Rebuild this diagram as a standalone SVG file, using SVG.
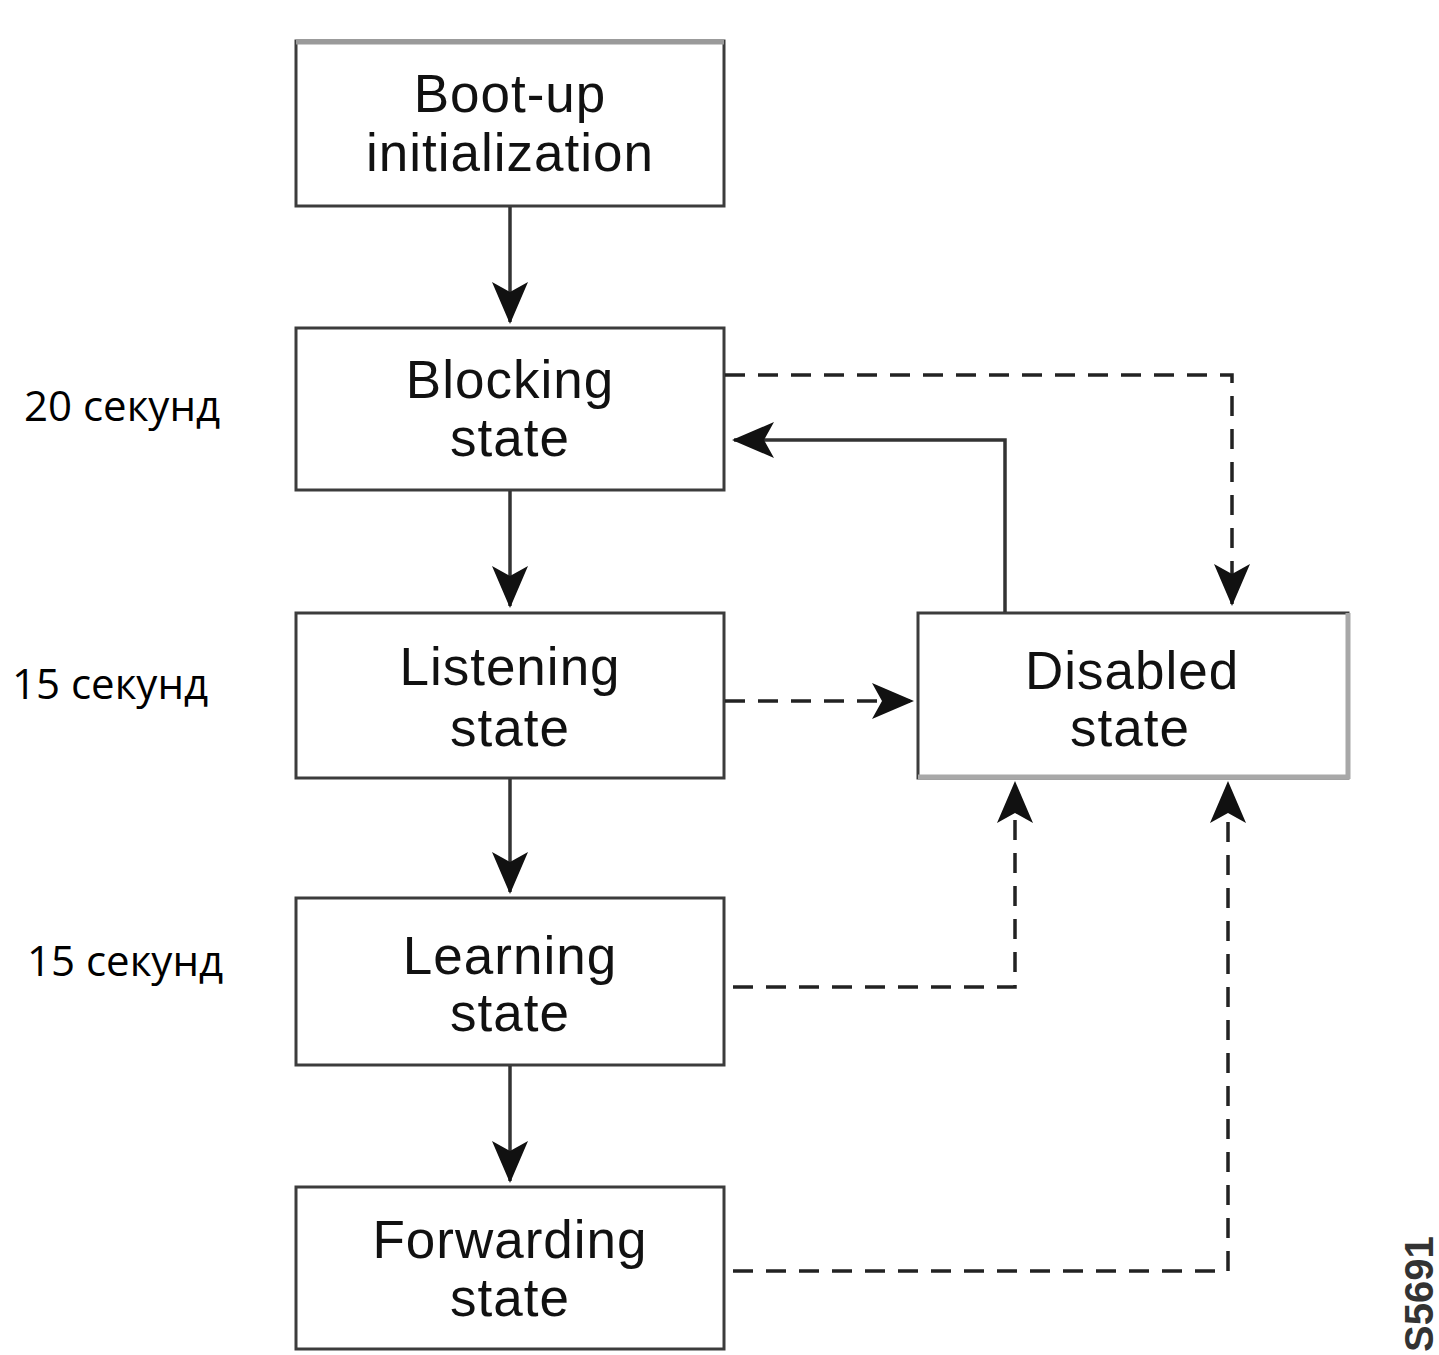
<svg xmlns="http://www.w3.org/2000/svg" width="1439" height="1355" viewBox="0 0 1439 1355">
  <style>
    .box { fill: #fff; stroke: #3c3c3c; stroke-width: 3; }
    .lbl { font-family: "Liberation Sans", Arial, sans-serif; font-size: 53px; letter-spacing: 1px; fill: #111; text-anchor: middle; }
    .side { font-family: "Open Sans", "Noto Sans", sans-serif; font-size: 42px; fill: #000; }
    .solid { fill: none; stroke: #333; stroke-width: 3.5; }
    .dash { fill: none; stroke: #222; stroke-width: 3.5; stroke-dasharray: 20 13; }
    .id { font-family: "Liberation Sans", Arial, sans-serif; font-size: 40px; font-weight: bold; fill: #333; }
  </style>
  <defs>
    <marker id="arrow" viewBox="0 0 42 36" refX="40" refY="18" markerWidth="42" markerHeight="36" markerUnits="userSpaceOnUse" orient="auto">
      <path d="M0,0 L42,18 L0,36 L10,18 Z" fill="#111"/>
    </marker>
  </defs>
  <rect width="1439" height="1355" fill="#fff"/>

  <g id="boot-up">
    <rect class="box" x="296" y="41" width="428" height="165"/>
    <line x1="296" y1="42" x2="724" y2="42" stroke="#9a9a9a" stroke-width="5"/>
    <text class="lbl" x="510" y="112">Boot-up</text>
    <text class="lbl" x="510" y="171">initialization</text>
  </g>

  <g id="blocking">
    <rect class="box" x="296" y="328" width="428" height="162"/>
    <text class="lbl" x="510" y="398">Blocking</text>
    <text class="lbl" x="510" y="456">state</text>
  </g>

  <g id="listening">
    <rect class="box" x="296" y="613" width="428" height="165"/>
    <text class="lbl" x="510" y="685">Listening</text>
    <text class="lbl" x="510" y="746">state</text>
  </g>

  <g id="learning">
    <rect class="box" x="296" y="898" width="428" height="167"/>
    <text class="lbl" x="510" y="974">Learning</text>
    <text class="lbl" x="510" y="1031">state</text>
  </g>

  <g id="forwarding">
    <rect class="box" x="296" y="1187" width="428" height="162"/>
    <text class="lbl" x="510" y="1258">Forwarding</text>
    <text class="lbl" x="510" y="1316">state</text>
  </g>

  <g id="disabled">
    <rect class="box" x="918" y="613" width="430" height="165"/>
    <line x1="918" y1="777" x2="1349" y2="777" stroke="#a8a8a8" stroke-width="5"/>
    <line x1="1348" y1="613" x2="1348" y2="779" stroke="#a8a8a8" stroke-width="5"/>
    <text class="lbl" x="1132" y="689">Disabled</text>
    <text class="lbl" x="1130" y="746">state</text>
  </g>

  <g id="connectors">
    <!-- main sequence -->
    <line class="solid" x1="510" y1="207" x2="510" y2="322" marker-end="url(#arrow)"/>
    <line class="solid" x1="510" y1="491" x2="510" y2="606" marker-end="url(#arrow)"/>
    <line class="solid" x1="510" y1="779" x2="510" y2="892" marker-end="url(#arrow)"/>
    <line class="solid" x1="510" y1="1066" x2="510" y2="1181" marker-end="url(#arrow)"/>
    <!-- disabled back to blocking -->
    <polyline class="solid" points="1005,612 1005,440 734,440" marker-end="url(#arrow)"/>
    <!-- transitions into disabled -->
    <polyline class="dash" points="725,375 1232,375 1232,604" marker-end="url(#arrow)"/>
    <line class="dash" x1="725" y1="701" x2="912" y2="701" marker-end="url(#arrow)"/>
    <polyline class="dash" points="733,987 1015,987 1015,783" marker-end="url(#arrow)"/>
    <polyline class="dash" points="733,1271 1228,1271 1228,783" marker-end="url(#arrow)"/>
  </g>

  <g id="timings">
    <text class="side" x="24" y="421">20 секунд</text>
    <text class="side" x="12" y="699">15 секунд</text>
    <text class="side" x="27" y="976">15 секунд</text>
  </g>

  <text class="id" transform="translate(1433,1352) rotate(-90)">S5691</text>
</svg>
